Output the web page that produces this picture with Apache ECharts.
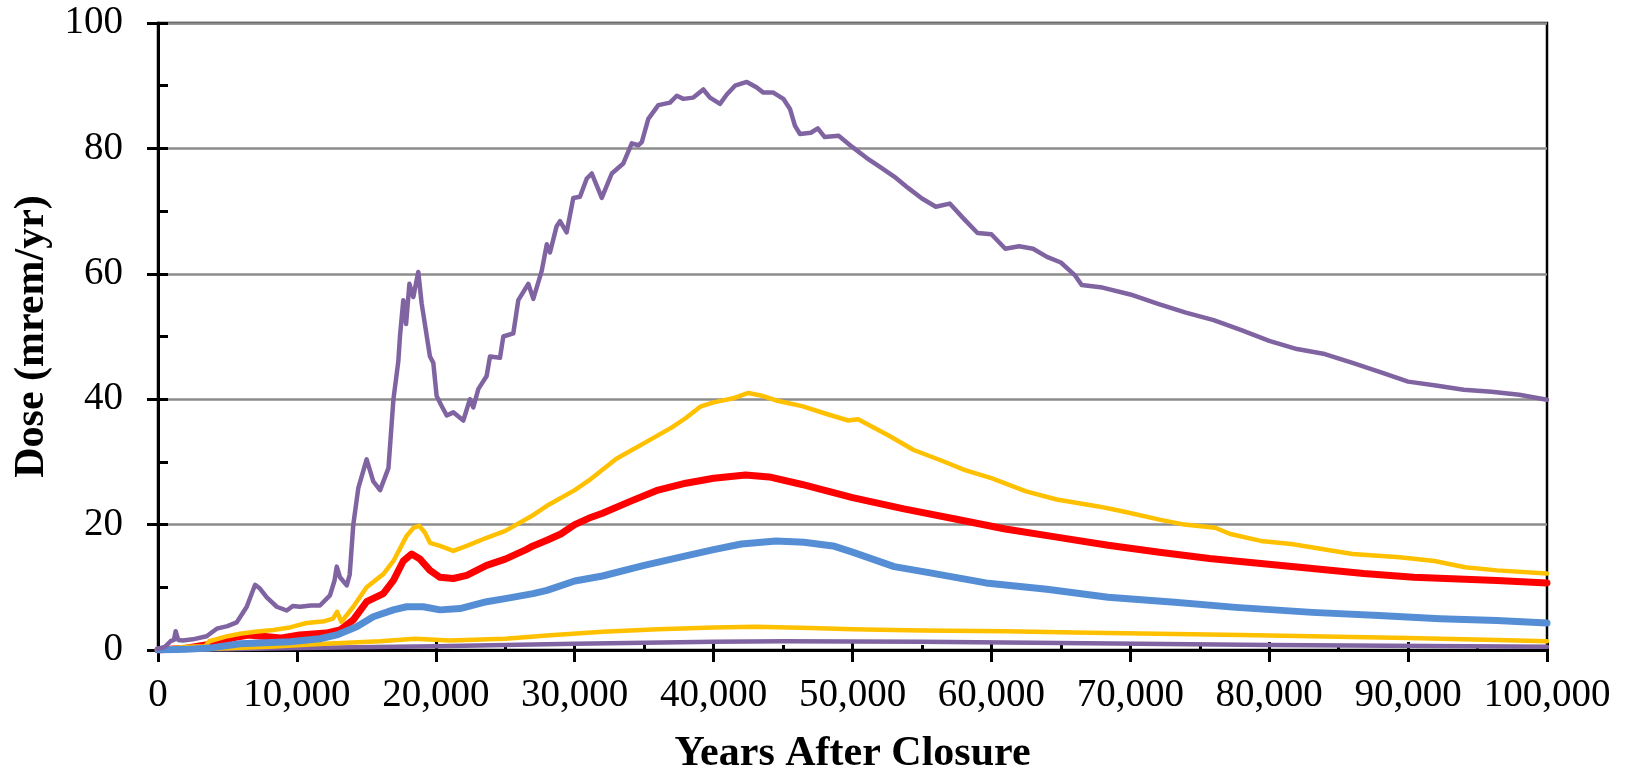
<!DOCTYPE html>
<html>
<head>
<meta charset="utf-8">
<script src="https://cdn.jsdelivr.net/npm/echarts@6/dist/echarts.min.js"></script>
<style>
html,body{margin:0;padding:0;background:#fff;}
#chart{width:1625px;height:780px;}
</style>
</head>
<body>
<div id="chart"></div>
<script>
// ---- data (years after closure, dose mrem/yr) ----
const xTicks = [0,10000,20000,30000,40000,50000,60000,70000,80000,90000,100000];
const yTicks = [0,20,40,60,80,100];

const purpleHigh = [[0,0.2],[500,0.5],[900,1.4],[1150,1.6],[1270,3.0],[1450,1.6],[1800,1.5],[2500,1.7],[3500,2.2],[4230,3.4],[5000,3.8],[5660,4.4],[6390,6.9],[6990,10.4],[7340,9.8],[7830,8.4],[8550,6.9],[9270,6.3],[9700,7.0],[10220,6.9],[11000,7.1],[11660,7.1],[12380,8.7],[12700,11],[12870,13.3],[13100,11.6],[13590,10.3],[13800,12],[14060,20],[14420,25.8],[15020,30.4],[15500,26.9],[15990,25.5],[16590,29],[16950,40],[17300,46],[17420,50],[17660,55.8],[17860,52],[18100,58.4],[18380,56.3],[18740,60.3],[18980,55.3],[19580,46.8],[19820,45.8],[20060,40.5],[20400,39],[20790,37.4],[21260,37.9],[21980,36.6],[22460,40],[22700,38.7],[23060,41.6],[23660,43.7],[23900,46.8],[24620,46.6],[24860,50],[25580,50.5],[25940,55.8],[26660,58.4],[27020,56],[27630,60.5],[27990,64.7],[28220,63.4],[28700,67.6],[28940,68.4],[29420,66.6],[29900,72.1],[30380,72.3],[30870,75.2],[31230,76],[31950,72.1],[32670,76],[33500,77.6],[34110,80.8],[34580,80.5],[34830,81],[35300,84.7],[36020,86.9],[36860,87.3],[37350,88.4],[37820,87.9],[38540,88.1],[39260,89.4],[39740,88.1],[40460,87.1],[40950,88.6],[41540,90],[42390,90.6],[43110,89.7],[43580,88.9],[44300,88.9],[45020,87.9],[45500,86.3],[45860,83.6],[46220,82.3],[47000,82.5],[47500,83.2],[48000,81.8],[49000,82],[50000,80.2],[51000,78.5],[52000,77],[53000,75.5],[54000,73.7],[55000,72],[56000,70.7],[57000,71.2],[58000,68.8],[59000,66.5],[60000,66.3],[61000,64],[62000,64.4],[63000,64],[64000,62.7],[65000,61.8],[66000,59.8],[66500,58.2],[68000,57.8],[70000,56.7],[72000,55.2],[74000,53.8],[76000,52.6],[78000,51],[80000,49.3],[82000,48],[84000,47.2],[86000,45.8],[88000,44.3],[90000,42.8],[92000,42.2],[94000,41.5],[96000,41.2],[98000,40.7],[100000,39.9]];

const goldHigh = [[0,0],[1000,0.3],[2000,0.5],[3400,0.6],[3700,1.4],[5000,2.2],[5900,2.6],[7000,2.9],[8300,3.2],[9500,3.6],[10700,4.3],[12000,4.6],[12600,5],[12900,6.1],[13200,4.5],[14060,6.9],[15020,10],[16220,12.1],[16950,14.2],[17900,18.2],[18400,19.5],[18810,19.8],[19220,18.7],[19580,17.1],[20300,16.6],[21260,15.8],[22230,16.6],[23660,17.9],[25000,19],[27000,21.5],[28000,23],[30000,25.5],[31000,27],[33000,30.5],[35000,33],[37000,35.5],[38000,37],[39040,38.8],[40000,39.5],[41500,40.2],[42500,41],[43400,40.6],[44500,39.8],[46370,38.9],[48200,37.6],[49700,36.6],[50400,36.8],[52600,34.2],[54400,31.9],[56300,30.3],[58100,28.7],[60000,27.4],[62500,25.3],[64700,24],[67700,22.9],[69500,22.1],[72100,20.8],[73900,20],[76100,19.5],[77200,18.5],[79400,17.4],[81600,16.9],[83800,16.1],[86000,15.3],[89400,14.8],[91900,14.2],[94100,13.2],[96400,12.7],[100000,12.2]];

const redMean = [[0,0],[2000,0.3],[4000,1],[5500,2],[6500,2.4],[7500,2.2],[8800,1.9],[10200,2.4],[12100,2.7],[13100,3.2],[14060,4.8],[15020,7.7],[16220,9],[16950,11.1],[17660,14.2],[18260,15.3],[18860,14.5],[19580,12.7],[20300,11.6],[21260,11.4],[22230,11.9],[23660,13.5],[25000,14.5],[26500,16],[27000,16.6],[28000,17.5],[29000,18.5],[30000,20],[31000,21],[32000,21.8],[34000,23.7],[36000,25.5],[38000,26.6],[40000,27.4],[42300,27.9],[44000,27.6],[46370,26.4],[50000,24.3],[53700,22.5],[57400,20.9],[61000,19.3],[64700,18],[68400,16.7],[72100,15.6],[75700,14.6],[79400,13.8],[83100,13],[86800,12.2],[90400,11.6],[96400,11.1],[100000,10.7]];

const blueMedian = [[0,0],[2000,0.1],[3700,0.3],[5900,1.0],[9500,1.3],[11660,1.8],[12870,2.4],[14300,3.7],[15500,5.3],[16950,6.4],[17900,6.9],[19100,6.9],[20300,6.4],[21740,6.6],[23660,7.7],[25000,8.2],[27000,9],[28000,9.5],[30000,11],[32000,11.8],[35000,13.5],[38000,15],[40000,16],[42000,16.9],[44500,17.4],[46500,17.2],[48600,16.6],[50000,15.6],[53000,13.3],[55600,12.3],[59600,10.7],[64000,9.7],[68400,8.4],[73200,7.6],[77600,6.8],[83100,6.0],[87900,5.5],[92300,5.0],[96400,4.7],[100000,4.3]];

const goldLow = [[0,0],[4000,0.2],[8000,0.5],[12000,1.0],[16000,1.4],[18500,1.8],[21000,1.5],[25000,1.8],[28000,2.3],[32000,2.9],[36000,3.3],[40000,3.6],[43000,3.7],[47000,3.5],[50000,3.3],[55000,3.1],[61000,3],[66000,2.8],[72000,2.6],[78000,2.4],[83000,2.2],[90000,1.9],[96400,1.6],[100000,1.4]];

const purpleLow = [[0,0],[5000,0.1],[10000,0.3],[20000,0.6],[30000,1],[40000,1.3],[45000,1.4],[55000,1.3],[65000,1.1],[80000,0.8],[100000,0.5]];

// ---- chart ----
const FONT = 'Liberation Serif';
const chart = echarts.init(document.getElementById('chart'), null, {renderer:'canvas'});
const fmt = v => Number(v).toLocaleString('en-US');

function line(data, color, width) {
  return {type:'line', data:data, showSymbol:false, symbol:'none', smooth:false,
          lineStyle:{color:color, width:width, join:'round', cap:'round'}, xAxisIndex:0, yAxisIndex:0, animation:false, z:3};
}

chart.setOption({
  animation:false,
  backgroundColor:'#fff',
  grid:{left:158, right:78, top:23, bottom:123, show:true, borderColor:'#000', borderWidth:2.5, backgroundColor:'transparent'},
  xAxis:[
    {type:'value', position:'bottom', min:xTicks[0], max:xTicks[xTicks.length-1], interval:10000,
     name:'Years After Closure', nameLocation:'middle', nameGap:83,
     nameTextStyle:{fontFamily:FONT, fontWeight:'bold', fontSize:42, color:'#000'},
     axisLine:{show:true, onZero:false, lineStyle:{color:'#000', width:3}},
     axisTick:{show:true, inside:false, length:12, lineStyle:{color:'#000', width:3}},
     axisLabel:{fontFamily:FONT, fontSize:39, color:'#000', margin:26, formatter:fmt},
     splitLine:{show:false}},
    {type:'value', position:'bottom', min:xTicks[0], max:xTicks[xTicks.length-1], interval:10000,
     axisLine:{show:false, onZero:false},
     axisTick:{show:true, inside:true, length:8, lineStyle:{color:'#000', width:3}},
     minorTick:{show:true, splitNumber:2, length:5, lineStyle:{color:'#000', width:3}},
     axisLabel:{show:false}, splitLine:{show:false}}
  ],
  yAxis:[
    {type:'value', position:'left', min:yTicks[0], max:yTicks[yTicks.length-1], interval:20,
     name:'Dose (mrem/yr)', nameLocation:'middle', nameGap:104, nameRotate:90,
     nameTextStyle:{fontFamily:FONT, fontWeight:'bold', fontSize:42, color:'#000'},
     axisLine:{show:true, onZero:false, lineStyle:{color:'#000', width:3}},
     axisTick:{show:true, inside:false, length:11, lineStyle:{color:'#000', width:3}},
     axisLabel:{fontFamily:FONT, fontSize:39, color:'#000', margin:35},
     splitLine:{show:true, lineStyle:{color:'#8c8c8c', width:2.5}}},
    {type:'value', position:'left', min:yTicks[0], max:yTicks[yTicks.length-1], interval:10,
     axisLine:{show:false, onZero:false},
     axisTick:{show:true, inside:true, length:10, lineStyle:{color:'#000', width:3}},
     axisLabel:{show:false}, splitLine:{show:false}}
  ],
  series:[
    line(purpleLow, '#8064A2', 4.5),
    line(goldLow, '#FFC000', 4.5),
    line(redMean, '#FF0000', 7),
    line(goldHigh, '#FFC000', 4.5),
    line(blueMedian, '#558ED5', 7),
    line(purpleHigh, '#8064A2', 4.5)
  ]
});
</script>
</body>
</html>
